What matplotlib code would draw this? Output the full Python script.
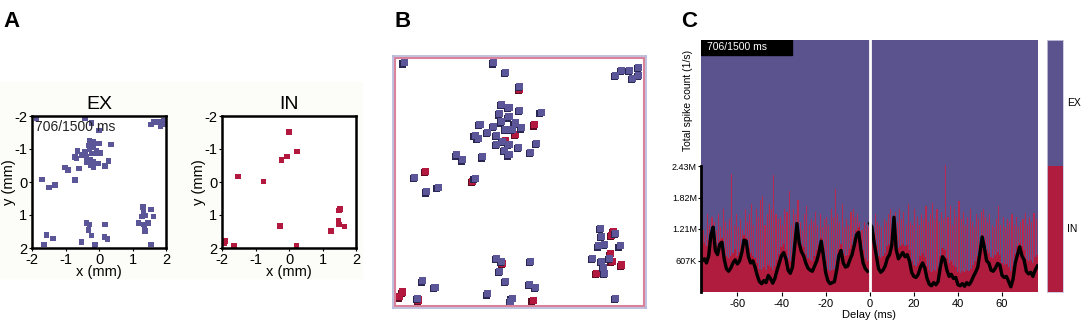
""" Network activity snapshot: EX/IN positions and spike count vs delay """

import numpy as np
import matplotlib.pyplot as plt
from matplotlib.patches import Rectangle
from matplotlib import transforms

plt.rcParams['font.family'] = ['Liberation Sans', 'DejaVu Sans']
plt.rcParams['axes.unicode_minus'] = False

# Colors
EX_COLOR = "#5a5698"
IN_COLOR = "#b3183f"
EX_DARK = "#2a2652"
IN_DARK = "#5c0c1e"
C_PURPLE = "#5b538e"
C_RED = "#b01c3e"

# Neuron positions (mm) that spiked at 706 ms
ex_x = [-1.87, -0.42, -0.22, 0.0, 1.56, 1.65, 1.78, 1.83, 1.93, 1.93,
        -0.29, -0.17, 0.0, 0.35, -0.32, -0.17, -0.07, -0.29, -0.42, -0.64,
        -0.72, -0.67, -0.52, -0.37, -0.27, -0.17, -0.02, -0.37, -0.22, -0.12,
        0.03, 0.28, 0.18, -0.17, -0.24, -0.60, -1.02, -0.92, -0.72, -1.70,
        -1.50, -1.32,
        1.31, 1.56, 1.33, 1.38, 1.63, 1.28, 1.18, 1.33, 1.46, 1.36, 1.38, 1.56,
        -0.37, -0.29, 0.18, -0.32, -0.22, 0.16, 0.26, -0.52, -0.12, -0.14,
        -1.57, -1.37, -1.65]
ex_y = [-1.94, -1.94, -1.78, -1.56, -1.74, -1.81, -1.81, -1.68, -1.86, -1.74,
        -1.26, -1.21, -1.16, -1.13, -1.11, -1.06, -0.96, -0.98, -0.91, -0.94,
        -0.76, -0.71, -0.81, -0.76, -0.66, -0.61, -0.56, -0.61, -0.86, -0.86,
        -0.88, -0.63, -0.48, -0.44, -0.51, -0.41, -0.44, -0.36, -0.06, -0.08,
        0.16, 0.09,
        0.76, 0.84, 0.89, 1.02, 1.04, 1.04, 1.24, 1.29, 1.24, 1.39, 1.49, 1.89,
        1.24, 1.29, 1.29, 1.46, 1.62, 1.67, 1.72, 1.82, 1.89, 1.94,
        1.61, 1.71, 1.89]
in_x = [0.0, 0.24, -0.06, -0.22, -1.52, -0.76, 1.52, 1.49, 1.48, 1.50,
        1.66, 1.25, -0.27, -1.89, -1.94, -1.64, 0.22]
in_y = [-1.51, -0.93, -0.77, -0.67, -0.17, -0.01, 0.81, 0.87, 1.17, 1.29,
        1.35, 1.49, 1.33, 1.79, 1.87, 1.92, 1.93]

pos_ticks = [-2, -1, 0, 1, 2]

# Spike count vs delay (1 ms bins, -76 .. 76 ms), values in K
delays = np.arange(-76, 77)
in_base = [900, 950, 880, 1000, 1150, 1250, 950, 900, 1000, 1050,
           800, 700, 650, 700, 760, 820, 700, 780, 900, 1100,
           1050, 850, 760, 700, 650, 560, 450, 420, 480, 430,
           520, 480, 420, 500, 620, 740, 860, 920, 800, 640,
           600, 700, 1000, 1350, 1050, 920, 860, 740, 660, 620,
           600, 700, 800, 900, 1050, 850, 600, 440, 400, 420,
           440, 600, 820, 920, 760, 700, 720, 820, 900, 1050,
           1200, 1250, 1000, 800, 650, 600,
           1350,
           1300, 1100, 900, 700, 650, 700, 760, 880, 920, 1000,
           1450, 950, 850, 880, 920, 880, 900, 800, 600, 520,
           500, 560, 700, 760, 680, 500, 420, 380, 420, 400,
           460, 700, 850, 800, 650, 560, 600, 520, 480, 380,
           360, 400, 380, 420, 400, 440, 520, 600, 700, 900,
           1100, 950, 800, 760, 680, 660, 720, 780, 720, 560,
           520, 540, 480, 400, 500, 740, 880, 950, 880, 800,
           640, 600, 620, 560, 680, 720]
in_peak = [1200, 1100, 1500, 1300, 1450, 1350, 1200, 1500, 1250, 1600,
           1350, 1200, 1400, 2270, 1300, 1500, 1250, 1400, 1200, 1600,
           1350, 1500, 1700, 1300, 1600, 1450, 1780, 1850, 1300, 1500,
           1700, 1600, 2250, 1500, 1400, 1450, 1300, 1600, 1550, 1940,
           1300, 1600, 1500, 1780, 1350, 1200, 1500, 1650, 1300, 1400,
           1350, 1550, 1300, 1500, 1250, 1400, 1450, 1300, 1600, 1450,
           1980, 1500, 1350, 1700, 1250, 1400, 1300, 1550, 1600, 1450,
           1500, 1350, 1200, 1350, 1300, 1250,
           1300,
           1200, 1500, 1350, 1300, 1250, 1400, 1350, 1500, 1600, 1300,
           1550, 1350, 1600, 1400, 1550, 1300, 1700, 1350, 1300, 1600,
           1450, 1300, 1500, 1400, 1650, 1350, 1500, 1720, 1400, 1600,
           1350, 1550, 1400, 2440, 1450, 1650, 1300, 1600, 1450, 1750,
           1400, 1550, 1300, 1450, 1600, 1350, 1250, 1500, 1400, 1550,
           1600, 1450, 1350, 1500, 1300, 1250, 1400, 1650, 1300, 1450,
           1250, 1400, 1350, 1500, 1300, 1450, 1250, 1350, 1400, 1520,
           1300, 1450, 1350, 1520, 1400, 1300]
in_smooth = [600, 640, 560, 700, 1100, 1250, 800, 720, 920, 960,
             640, 450, 400, 460, 560, 620, 540, 600, 760, 1000,
             980, 680, 560, 600, 480, 320, 200, 160, 220, 180,
             320, 260, 170, 260, 420, 560, 700, 760, 640, 420,
             360, 480, 900, 1320, 950, 780, 700, 560, 460, 420,
             400, 500, 600, 760, 980, 700, 380, 220, 160, 180,
             200, 420, 700, 800, 560, 480, 500, 620, 720, 900,
             1100, 1150, 820, 560, 450, 400,
             1320,
             1250, 950, 700, 450, 380, 420, 500, 650, 720, 900,
             1440, 820, 640, 700, 760, 680, 720, 600, 380, 300,
             280, 340, 480, 560, 460, 260, 150, 120, 180, 140,
             200, 480, 680, 620, 420, 300, 340, 260, 280, 140,
             120, 160, 110, 180, 140, 200, 300, 380, 480, 760,
             1060, 850, 600, 560, 420, 400, 460, 550, 520, 320,
             280, 300, 200, 100, 250, 560, 720, 870, 700, 620,
             400, 350, 380, 300, 420, 500]
count_ticks = [607, 1214, 1821, 2428]
count_labels = ["607K", "1.21M", "1.82M", "2.43M"]
count_top = 4856
legend_share = [0.5, 0.5]  # IN, EX


def draw_positions(ax, xs, ys, color, title, show_time=False):
    """ Scatter plot of neuron positions """
    ax.scatter(xs, ys, s=16, marker='s', color=color, edgecolors='none', clip_on=True)
    ax.set_xlim(-2, 2)
    ax.set_ylim(2, -2)
    ax.set_xticks(pos_ticks)
    ax.set_yticks(pos_ticks)
    ax.tick_params(labelsize=10.5, length=2.5, width=0.8, pad=1)
    for s in ax.spines.values():
        s.set_linewidth(1.8)
    ax.set_title(title, fontsize=14, pad=5)
    ax.set_xlabel("x (mm)", fontsize=10.5, labelpad=-1)
    ax.set_ylabel("y (mm)", fontsize=10.5, labelpad=-1)
    if show_time:
        ax.text(0.02, 0.97, "706/1500 ms", transform=ax.transAxes, fontsize=10,
                color='#222222', va='top', ha='left')


def main():
    """ Main function """
    fig = plt.figure(figsize=(10.84, 3.26), dpi=100)

    # Panel labels
    for lab, xp in (("A", 0.003), ("B", 0.364), ("C", 0.628)):
        fig.text(xp, 0.965, lab, fontsize=16, fontweight='bold', va='top')

    # Light background of panel A
    fig.patches.append(Rectangle((0.0, 1 - 278 / 326), 362 / 1084, 196 / 326,
                                 transform=fig.transFigure, color='#fcfcf8', zorder=-1))

    # Panel A
    ax_ex = fig.add_axes([32 / 1084, 78 / 326, 134 / 1084, 132 / 326])
    draw_positions(ax_ex, ex_x, ex_y, EX_COLOR, "EX", show_time=True)
    ax_in = fig.add_axes([222 / 1084, 78 / 326, 134 / 1084, 132 / 326])
    draw_positions(ax_in, in_x, in_y, IN_COLOR, "IN")

    # Panel B: both populations, with a small shadow
    ax_b = fig.add_axes([393 / 1084, 18 / 326, 253 / 1084, 252 / 326])
    shadow = transforms.offset_copy(ax_b.transData, fig=fig, x=-1.2, y=-1.2, units='dots')
    ax_b.scatter(in_x, in_y, s=26, marker='s', color=IN_DARK, transform=shadow, edgecolors='none')
    ax_b.scatter(in_x, in_y, s=26, marker='s', color=IN_COLOR, edgecolors='none')
    ax_b.scatter(ex_x, ex_y, s=26, marker='s', color=EX_DARK, transform=shadow, edgecolors='none')
    ax_b.scatter(ex_x, ex_y, s=26, marker='s', color=EX_COLOR, edgecolors='none')
    ax_b.set_xlim(-2.05, 2.05)
    ax_b.set_ylim(2.05, -2.05)
    ax_b.set_xticks([])
    ax_b.set_yticks([])
    for s in ax_b.spines.values():
        s.set_color('#b4b6da')
        s.set_linewidth(1.2)
    ax_b.add_patch(Rectangle((0.006, 0.006), 0.988, 0.988, transform=ax_b.transAxes, fill=False,
                             edgecolor='#d98299', linewidth=1.5, clip_on=False, zorder=10))

    # Panel C: spike count vs delay
    ax_c = fig.add_axes([701 / 1084, 34 / 326, 337 / 1084, 252 / 326])
    ax_c.set_facecolor(C_PURPLE)
    ax_c.bar(delays + 0.5, np.array(in_peak) * 1e3, width=0.5, color="#b8294f",
             linewidth=0, antialiased=False)
    ax_c.bar(delays, np.array(in_base) * 1e3, width=1.0, color=C_RED, linewidth=0,
             antialiased=False)
    left = delays < 0
    right = delays >= 0
    smooth = np.array(in_smooth) * 1e3
    ax_c.plot(delays[left], smooth[left], color='black', lw=2.4)
    ax_c.plot(delays[right], smooth[right], color='black', lw=2.4)
    ax_c.axvline(0, color='white', lw=2)
    ax_c.set_xlim(-76.5, 76.3)
    ax_c.set_ylim(0, count_top * 1e3)
    ax_c.set_xticks([-60, -40, -20, 0, 20, 40, 60])
    ax_c.set_yticks(np.array(count_ticks) * 1e3)
    ax_c.set_yticklabels(count_labels)
    ax_c.tick_params(axis='x', labelsize=8, length=3, pad=2)
    ax_c.tick_params(axis='y', labelsize=6.5, length=2, pad=1)
    for side in ("top", "right", "bottom"):
        ax_c.spines[side].set_visible(False)
    ax_c.spines['left'].set_linewidth(2)
    ax_c.spines['left'].set_bounds(0, count_ticks[-1] * 1e3)
    ax_c.set_xlabel("Delay (ms)", fontsize=8, labelpad=1)
    fig.text(688 / 1084, 1 - 100 / 326, "Total spike count (1/s)", rotation=90,
             fontsize=7.5, va='center', ha='center')

    # Time stamp box
    ax_c.add_patch(Rectangle((0, 1 - 15 / 252), 91 / 337, 15 / 252, transform=ax_c.transAxes,
                             color='black', zorder=5))
    ax_c.text(0.018, 1 - 7.5 / 252, "706/1500 ms", transform=ax_c.transAxes, color='white',
              fontsize=7.5, va='center', ha='left', zorder=6)

    # Legend bar
    ax_l = fig.add_axes([1047 / 1084, 34 / 326, 16 / 1084, 252 / 326])
    ax_l.bar([0], [legend_share[0]], width=1, color=C_RED)
    ax_l.bar([0], [legend_share[1]], bottom=legend_share[0], width=1, color=C_PURPLE)
    ax_l.set_xlim(-0.5, 0.5)
    ax_l.set_ylim(0, 1)
    ax_l.set_xticks([])
    ax_l.set_yticks([])
    for s in ax_l.spines.values():
        s.set_color('#c8c8e0')
        s.set_linewidth(0.6)
    fig.text(1067 / 1084, 1 - 103 / 326, "EX", fontsize=7.5, va='center')
    fig.text(1067 / 1084, 1 - 229 / 326, "IN", fontsize=7.5, va='center')

    fig.savefig("out.png", dpi=100, facecolor='white')


if __name__ == "__main__":
    main()
